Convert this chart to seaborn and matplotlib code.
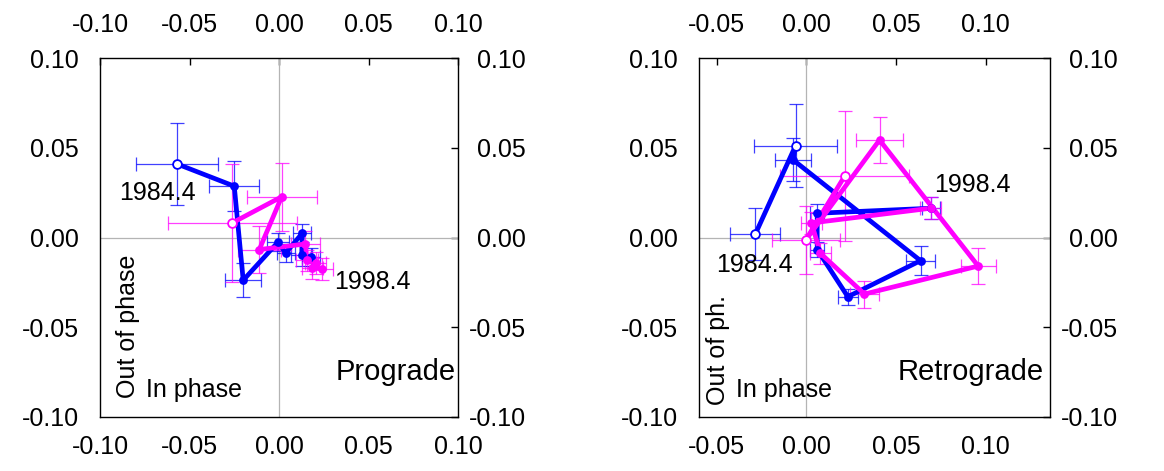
import numpy as np
import pandas as pd
import seaborn as sns
import matplotlib.pyplot as plt
from matplotlib.ticker import FormatStrFormatter

# prograde panel
pro_blue_x = [-0.057, -0.025, -0.020, -0.0006, 0.0037, 0.013, 0.0127, 0.0177]
pro_blue_y = [0.041, 0.0286, -0.0238, -0.0026, -0.0087, 0.0024, -0.0096, -0.0111]
pro_blue_xerr = [0.023, 0.014, 0.010, 0.006, 0.005, 0.005, 0.006, 0.005]
pro_blue_yerr = [0.023, 0.014, 0.0095, 0.005, 0.005, 0.005, 0.006, 0.005]
pro_mag_x = [-0.026, 0.0015, -0.011, 0.0148, 0.0156, 0.0205, 0.0186, 0.0242]
pro_mag_y = [0.0082, 0.0227, -0.0067, -0.0036, -0.0128, -0.0143, -0.0171, -0.0174]
pro_mag_xerr = [0.036, 0.0195, 0.012, 0.008, 0.006, 0.006, 0.006, 0.006]
pro_mag_yerr = [0.033, 0.019, 0.013, 0.007, 0.006, 0.006, 0.006, 0.006]

# retrograde panel
ret_blue_x = [-0.0285, -0.0061, -0.0074, 0.0637, 0.0231, 0.006, 0.006, 0.0693]
ret_blue_y = [0.002, 0.0511, 0.0432, -0.0129, -0.033, -0.0067, 0.0135, 0.0163]
ret_blue_xerr = [0.014, 0.023, 0.010, 0.008, 0.0055, 0.004, 0.004, 0.005]
ret_blue_yerr = [0.0145, 0.023, 0.012, 0.008, 0.0045, 0.004, 0.005, 0.006]
ret_mag_x = [0.0214, -0.0004, 0.0408, 0.0959, 0.0324, 0.0078, 0.0028, 0.0693]
ret_mag_y = [0.0343, -0.0014, 0.0543, -0.0159, -0.0315, -0.0088, 0.0081, 0.0163]
ret_mag_xerr = [0.036, 0.019, 0.013, 0.0098, 0.008, 0.006, 0.006, 0.006]
ret_mag_yerr = [0.036, 0.019, 0.013, 0.010, 0.0075, 0.006, 0.006, 0.006]

yticks = [-0.10, -0.05, 0.00, 0.05, 0.10]
pro_xticks = [-0.10, -0.05, 0.00, 0.05, 0.10]
ret_xticks = [-0.05, 0.00, 0.05, 0.10]

sns.set_theme(style="white")
plt.rcParams['font.family'] = ['Liberation Sans', 'DejaVu Sans']
plt.rcParams['axes.unicode_minus'] = False
plt.rcParams['text.color'] = 'black'
plt.rcParams['xtick.color'] = 'black'
plt.rcParams['ytick.color'] = 'black'
plt.rcParams['xtick.labelcolor'] = 'black'
plt.rcParams['ytick.labelcolor'] = 'black'

fig = plt.figure(figsize=(11.64, 4.71), dpi=100)
ax1 = fig.add_axes([100 / 1164, 54 / 471, 358 / 1164, 359 / 471])
ax2 = fig.add_axes([699 / 1164, 54 / 471, 351 / 1164, 359 / 471])

BLUE = "#0000ff"
MAG = "#ff00ff"
TS = 18


def draw_series(ax, x, y, xerr, yerr, color, n_open):
    df = pd.DataFrame({"x": x, "y": y, "xerr": xerr, "yerr": yerr})
    df["order"] = np.arange(len(df))
    ax.errorbar(df["x"], df["y"], xerr=df["xerr"], yerr=df["yerr"], fmt="none",
                ecolor=color, elinewidth=0.9, capsize=5, capthick=0.9, alpha=0.75, zorder=2)
    sns.lineplot(data=df, x="x", y="y", sort=False, estimator=None, color=color,
                 linewidth=3.4, legend=False, ax=ax, zorder=3)
    filled = df[df["order"] >= n_open]
    hollow = df[df["order"] < n_open]
    sns.scatterplot(data=filled, x="x", y="y", color=color, s=40, edgecolor=color,
                    linewidth=0, legend=False, ax=ax, zorder=4)
    sns.scatterplot(data=hollow, x="x", y="y", facecolor="white", s=40, edgecolor=color,
                    linewidth=1.3, legend=False, ax=ax, zorder=4)


def style_axes(ax, xlim, xticks):
    ax.axhline(0, color="#b4b4b4", lw=0.9, zorder=1)
    ax.axvline(0, color="#b4b4b4", lw=0.9, zorder=1)
    ax.set_xlim(*xlim)
    ax.set_ylim(-0.10, 0.10)
    ax.set_xticks(xticks)
    ax.set_yticks(yticks)
    ax.xaxis.set_major_formatter(FormatStrFormatter("%.2f"))
    ax.yaxis.set_major_formatter(FormatStrFormatter("%.2f"))
    ax.set_xlabel("")
    ax.set_ylabel("")
    for sp in ax.spines.values():
        sp.set_color("black")
        sp.set_linewidth(1.0)
    ax.tick_params(axis="x", direction="in", length=5, width=1, color="black",
                   labelsize=TS, pad=13, labelcolor="black")
    ax.tick_params(axis="y", direction="in", length=5, width=1, color="black",
                   labelsize=TS, pad=15, labelcolor="black")
    top = ax.secondary_xaxis("top")
    top.set_xticks(xticks)
    top.xaxis.set_major_formatter(FormatStrFormatter("%.2f"))
    top.tick_params(direction="in", length=5, width=1, labelsize=TS, pad=15,
                    color="black", labelcolor="black")
    right = ax.secondary_yaxis("right")
    right.set_yticks(yticks)
    right.yaxis.set_major_formatter(FormatStrFormatter("%.2f"))
    right.tick_params(direction="in", length=5, width=1, labelsize=TS, pad=49,
                      color="black", labelcolor="black")
    for lbl in right.get_yticklabels():
        lbl.set_horizontalalignment("right")
    for sec in (top, right):
        for sp in sec.spines.values():
            sp.set_visible(False)


draw_series(ax1, pro_blue_x, pro_blue_y, pro_blue_xerr, pro_blue_yerr, BLUE, 1)
draw_series(ax1, pro_mag_x, pro_mag_y, pro_mag_xerr, pro_mag_yerr, MAG, 1)
style_axes(ax1, (-0.10, 0.10), pro_xticks)
ax1.text(-0.0895, 0.025, "1984.4", fontsize=TS, va="center", ha="left", zorder=5)
ax1.text(0.031, -0.025, "1998.4", fontsize=TS, va="center", ha="left", zorder=5)
ax1.text(0.995, 0.125, "Prograde", fontsize=21, va="center", ha="right", transform=ax1.transAxes)
ax1.text(0.128, 0.075, "In phase", fontsize=TS, va="center", ha="left", transform=ax1.transAxes)
ax1.text(0.078, 0.053, "Out of phase", fontsize=TS, va="bottom", ha="center", rotation=90,
         transform=ax1.transAxes)

draw_series(ax2, ret_blue_x, ret_blue_y, ret_blue_xerr, ret_blue_yerr, BLUE, 2)
draw_series(ax2, ret_mag_x, ret_mag_y, ret_mag_xerr, ret_mag_yerr, MAG, 2)
style_axes(ax2, (-0.060, 0.136), ret_xticks)
ax2.text(-0.0505, -0.0153, "1984.4", fontsize=TS, va="center", ha="left", zorder=5)
ax2.text(0.0715, 0.029, "1998.4", fontsize=TS, va="center", ha="left", zorder=5)
ax2.text(0.982, 0.125, "Retrograde", fontsize=21, va="center", ha="right", transform=ax2.transAxes)
ax2.text(0.105, 0.075, "In phase", fontsize=TS, va="center", ha="left", transform=ax2.transAxes)
ax2.text(0.054, 0.033, "Out of ph.", fontsize=TS, va="bottom", ha="center", rotation=90,
         transform=ax2.transAxes)

fig.savefig("out.png", dpi=100)
